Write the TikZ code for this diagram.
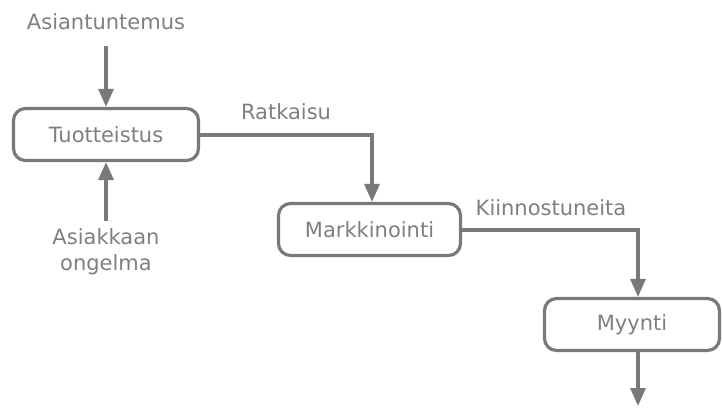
\documentclass[tikz,border=0pt]{standalone}
\usepackage{fontspec}
\setmainfont{DejaVu Sans}
\usetikzlibrary{arrows.meta}
\definecolor{txtgray}{HTML}{7F7F7F}
\definecolor{linegray}{HTML}{797979}
\begin{document}
\begin{tikzpicture}[x=1pt,y=-1pt,
  font=\fontsize{21}{25}\selectfont,
  lbl/.style={text=txtgray, inner sep=0pt},
  box/.style={draw=linegray, line width=3.2pt, rounded corners=12pt, text=txtgray, inner sep=0pt, minimum height=52pt},
  conn/.style={draw=linegray, line width=3.2pt, -{Triangle[width=15pt,length=18pt]}}
]
\useasboundingbox (0,0) rectangle (722,408);
\node[box, minimum width=185pt] (tuot) at (106,134.5) {Tuotteistus};
\node[box, minimum width=182pt] (mark) at (369.5,229.5) {Markkinointi};
\node[box, minimum width=175pt] (myyn) at (632,324.5) {Myynti};
\node[lbl] (asian) at (106,22) {Asiantuntemus};
\node[lbl, align=center, font=\fontsize{21}{26}\selectfont] (asiak) at (106,252) {Asiakkaan\\ongelma};
\node[lbl] (ratk) at (286,112) {Ratkaisu};
\node[lbl] (kiin) at (551,208) {Kiinnostuneita};
\coordinate (a0) at (106,46);
\coordinate (b0) at (106,221);
\coordinate (c0) at (638,406);
\draw[conn] (a0) -- (tuot.north);
\draw[conn] (b0) -- (tuot.south);
\draw[conn] (tuot.east |- 0,135) -| (mark.north -| 372,0);
\draw[conn] (mark.east |- 0,230) -| (myyn.north -| 638,0);
\draw[conn] (myyn.south -| 638,0) -- (c0);
\end{tikzpicture}
\end{document}
